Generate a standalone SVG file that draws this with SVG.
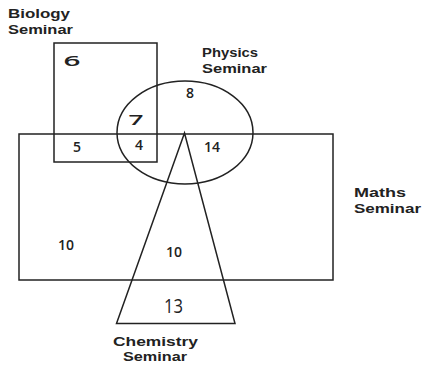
<svg xmlns="http://www.w3.org/2000/svg" width="423" height="367" viewBox="0 0 423 367">
<style>
.shape{fill:none;stroke:#222;stroke-width:1.5}
.lbl{font-family:"Liberation Sans",Arial,sans-serif;font-weight:700;font-size:13.5px;fill:#222}
.num{font-family:"Open Sans","DejaVu Sans",sans-serif;font-weight:600;font-size:14px;fill:#222;text-anchor:middle}
</style>
<rect width="423" height="367" fill="#fff"/>
<g id="biology">
<rect class="shape" x="54" y="43" width="103" height="119"/>
<text class="lbl" x="8" y="18" textLength="62" lengthAdjust="spacingAndGlyphs">Biology</text>
<text class="lbl" x="8" y="34" textLength="65" lengthAdjust="spacingAndGlyphs">Seminar</text>
</g>
<g id="maths">
<rect class="shape" x="19" y="134" width="314" height="146"/>
<text class="lbl" x="354" y="197" textLength="52" lengthAdjust="spacingAndGlyphs">Maths</text>
<text class="lbl" x="354" y="213" textLength="67" lengthAdjust="spacingAndGlyphs">Seminar</text>
</g>
<g id="physics">
<ellipse class="shape" cx="185" cy="132.5" rx="68" ry="51.5"/>
<text class="lbl" x="202" y="57" textLength="56" lengthAdjust="spacingAndGlyphs">Physics</text>
<text class="lbl" x="202" y="73" textLength="65" lengthAdjust="spacingAndGlyphs">Seminar</text>
</g>
<g id="chemistry">
<polygon class="shape" points="184.5,133 116.5,323.5 235,323.5"/>
<text class="lbl" x="113" y="346" style="font-size:12.5px" textLength="85" lengthAdjust="spacingAndGlyphs">Chemistry</text>
<text class="lbl" x="123" y="360.5" style="font-size:12.5px" textLength="64" lengthAdjust="spacingAndGlyphs">Seminar</text>
</g>
<g id="counts">
<text class="num" x="72" y="66" textLength="17" lengthAdjust="spacingAndGlyphs">6</text>
<text class="num" x="190" y="98">8</text>
<text class="num" x="136" y="125" textLength="15" lengthAdjust="spacingAndGlyphs">7</text>
<text class="num" x="77" y="152">5</text>
<text class="num" x="139" y="150">4</text>
<text class="num" x="212" y="152">14</text>
<text class="num" x="66" y="250">10</text>
<text class="num" x="174" y="257">10</text>
<text class="num" x="173.5" y="313" style="font-size:20px;font-weight:400" textLength="19" lengthAdjust="spacingAndGlyphs">13</text>
</g>
</svg>
